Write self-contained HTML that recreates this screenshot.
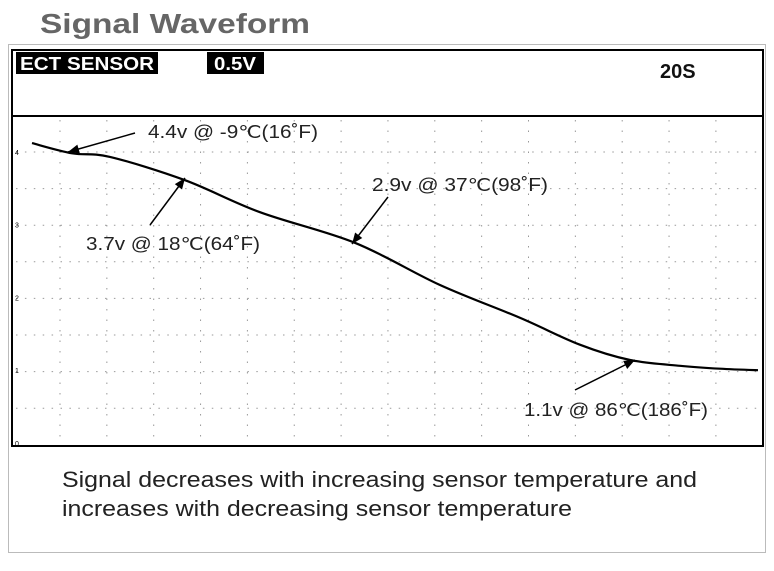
<!DOCTYPE html>
<html><head><meta charset="utf-8"><style>
body{margin:0;background:#fff;width:774px;height:566px;overflow:hidden;font-family:"Liberation Sans",sans-serif}
</style></head><body>
<svg width="774" height="566" viewBox="0 0 774 566">
<text x="40" y="33" font-size="28" font-weight="bold" fill="#666" textLength="270" lengthAdjust="spacingAndGlyphs">Signal Waveform</text>
<rect x="8.5" y="44.5" width="757" height="508" fill="none" stroke="#bbb"/>
<rect x="12" y="50" width="751" height="396" fill="#fff" stroke="#000" stroke-width="2"/>
<line x1="12" y1="116" x2="763" y2="116" stroke="#000" stroke-width="2"/>
<rect x="16" y="52" width="142" height="22" fill="#000"/>
<text x="20" y="70" font-size="18" font-weight="bold" fill="#fff" textLength="134" lengthAdjust="spacingAndGlyphs">ECT SENSOR</text>
<rect x="207" y="52" width="57" height="22" fill="#000"/>
<text x="214" y="70" font-size="18" font-weight="bold" fill="#fff" textLength="42" lengthAdjust="spacingAndGlyphs">0.5V</text>
<text x="660" y="78" font-size="20" font-weight="bold" fill="#111">20S</text>
<g id="grid"></g>
<g id="ylabels"></g>
<path id="curve" fill="none" stroke="#000" stroke-width="2.2"/>
<g id="ann" font-size="18" fill="#222"></g>
<text x="62" y="487" font-size="22" fill="#222" textLength="635" lengthAdjust="spacingAndGlyphs">Signal decreases with increasing sensor temperature and</text>
<text x="62" y="516" font-size="22" fill="#222" textLength="510" lengthAdjust="spacingAndGlyphs">increases with decreasing sensor temperature</text>
</svg>
<script>
const times=[0,1.07,2.08,4.08,6.08,8.61,10.88,13.01,14.61,15.95,17.28,18.35,19.36];
const volts=[4.12,3.98,3.93,3.61,3.17,2.75,2.17,1.72,1.35,1.14,1.06,1.02,1.0];
const yTicks=[0,1,2,3,4];
const annLabels=["4.4v @ -9℃(16˚F)","3.7v @ 18℃(64˚F)","2.9v @ 37℃(98˚F)","1.1v @ 86℃(186˚F)"];
const NS="http://www.w3.org/2000/svg";
const x=t=>32+t*(758-32)/19.36;
const y=v=>443-72.8*v;
const grid=document.getElementById('grid');
for(let k=0;k<15;k++){const gx=60+46.85*k;const l=document.createElementNS(NS,'line');
l.setAttribute('x1',gx);l.setAttribute('x2',gx);l.setAttribute('y1',120);l.setAttribute('y2',444);
l.setAttribute('stroke','#999');l.setAttribute('stroke-dasharray','1.5 9');


grid.appendChild(l);}
for(let k=0;k<8;k++){const gy=152+36.6*k;const l=document.createElementNS(NS,'line');
l.setAttribute('x1',16);l.setAttribute('x2',760);l.setAttribute('y1',gy);l.setAttribute('y2',gy);
l.setAttribute('stroke','#999');l.setAttribute('stroke-dasharray','1.5 7.4');


grid.appendChild(l);}
const yl=document.getElementById('ylabels');
yTicks.forEach(v=>{const t=document.createElementNS(NS,'text');t.setAttribute('x',15);t.setAttribute('y',y(v)+3);
t.setAttribute('font-size','7');t.textContent=v;


yl.appendChild(t);});
const P=times.map((t,i)=>[x(t),y(volts[i])]);
let d='M'+P[0][0].toFixed(1)+' '+P[0][1].toFixed(1);
for(let i=0;i<P.length-1;i++){const p0=P[Math.max(i-1,0)],p1=P[i],p2=P[i+1],p3=P[Math.min(i+2,P.length-1)];
const c1=[p1[0]+(p2[0]-p0[0])/6,p1[1]+(p2[1]-p0[1])/6],c2=[p2[0]-(p3[0]-p1[0])/6,p2[1]-(p3[1]-p1[1])/6];
d+=` C${c1[0].toFixed(1)} ${c1[1].toFixed(1)} ${c2[0].toFixed(1)} ${c2[1].toFixed(1)} ${p2[0].toFixed(1)} ${p2[1].toFixed(1)}`;}
document.getElementById('curve').setAttribute('d',d);
const ann=document.getElementById('ann');
const arrows=[[135,133,68,152,148,138,170],[150,225,185,178,86,250,174],[388,197,352,244,372,191,176],[575,390,635,360,524,416,184]];
arrows.forEach((a,i)=>{const [x1,y1,x2,y2,tx,ty,tw]=a;
const l=document.createElementNS(NS,'line');l.setAttribute('x1',x1);l.setAttribute('y1',y1);l.setAttribute('x2',x2);l.setAttribute('y2',y2);
l.setAttribute('stroke','#000');l.setAttribute('stroke-width','1.5');


ann.appendChild(l);
const ang=Math.atan2(y2-y1,x2-x1),L=11,W=4.5;
const bx=x2-L*Math.cos(ang),by=y2-L*Math.sin(ang);
const p=document.createElementNS(NS,'polygon');
p.setAttribute('points',`${x2},${y2} ${bx-W*Math.sin(ang)},${by+W*Math.cos(ang)} ${bx+W*Math.sin(ang)},${by-W*Math.cos(ang)}`);
p.setAttribute('fill','#000');


ann.appendChild(p);
const t=document.createElementNS(NS,'text');t.setAttribute('x',tx);t.setAttribute('y',ty);t.textContent=annLabels[i];
t.setAttribute('textLength',tw);t.setAttribute('lengthAdjust','spacingAndGlyphs');


ann.appendChild(t);});
</script>
</body></html>
